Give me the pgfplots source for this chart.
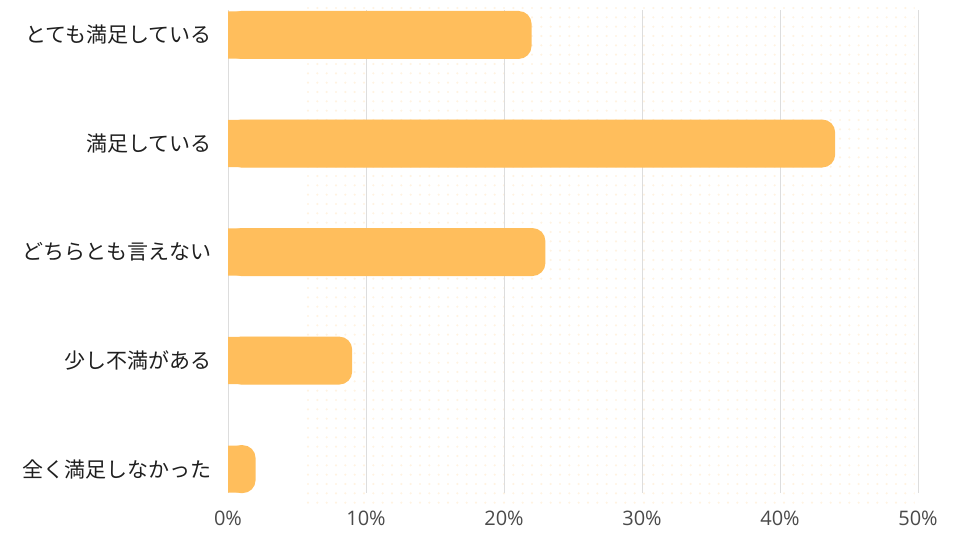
\documentclass[border=0pt]{standalone}
\usepackage{pgfplots}
\pgfplotsset{compat=1.18}
\usepackage{pgfplotstable}
\usepackage{fontspec}
\setmainfont{Open Sans}
\newfontfamily\jp{Noto Sans CJK JP}
\usetikzlibrary{patterns.meta}
\definecolor{barc}{HTML}{FFBE5C}
\definecolor{gridc}{HTML}{DDDDDD}
\definecolor{dotc}{HTML}{FFF3E2}
\definecolor{tickc}{HTML}{4A4A4A}

% satisfaction survey, percent
\pgfplotstableread{
idx v
0 22
1 44
2 23
3 9
4 2
}\sat

\begin{document}
\begin{tikzpicture}[x=1pt,y=1pt]
\useasboundingbox (0,0) rectangle (720,405);
% faint dotted backdrop
\fill[pattern={Dots[radius=0.9pt,distance=7pt]}, pattern color=dotc] (227,25) rectangle (686,405);
\begin{axis}[
  at={(171pt,35.25pt)}, anchor=south west,
  scale only axis, width=517.5pt, height=362.25pt,
  xmin=0, xmax=50, ymin=-0.23, ymax=4.22, y dir=reverse,
  xbar, bar width=36pt,
  axis line style={draw=none},
  major tick length=0pt,
  xmajorgrids, grid style={gridc, line width=0.75pt},
  xtick={0,10,...,50},
  xticklabel={\pgfmathprintnumber{\tick}\%},
  ytick={0,...,4},
  yticklabels={とても満足している,満足している,どちらとも言えない,少し不満がある,全く満足しなかった},
  yticklabel style={font=\jp\fontsize{15.75}{18}\selectfont, text=black!88, anchor=east, inner sep=0pt, xshift=-12pt},
  xticklabel style={font=\fontsize{15}{18}\selectfont, text=tickc, anchor=north, inner sep=0pt, yshift=-13.5pt},
  /pgf/number format/assume math mode=true,
]
% rounded bars, then a square left half so only the right end stays round
\addplot[fill=barc, draw=none, bar shift=0pt, rounded corners=9.75pt] table[x=v, y=idx]{\sat};
\addplot[fill=barc, draw=none, bar shift=0pt, bar width=35.4pt] table[x expr=\thisrow{v}/2, y=idx]{\sat};
\end{axis}
\end{tikzpicture}
\end{document}
